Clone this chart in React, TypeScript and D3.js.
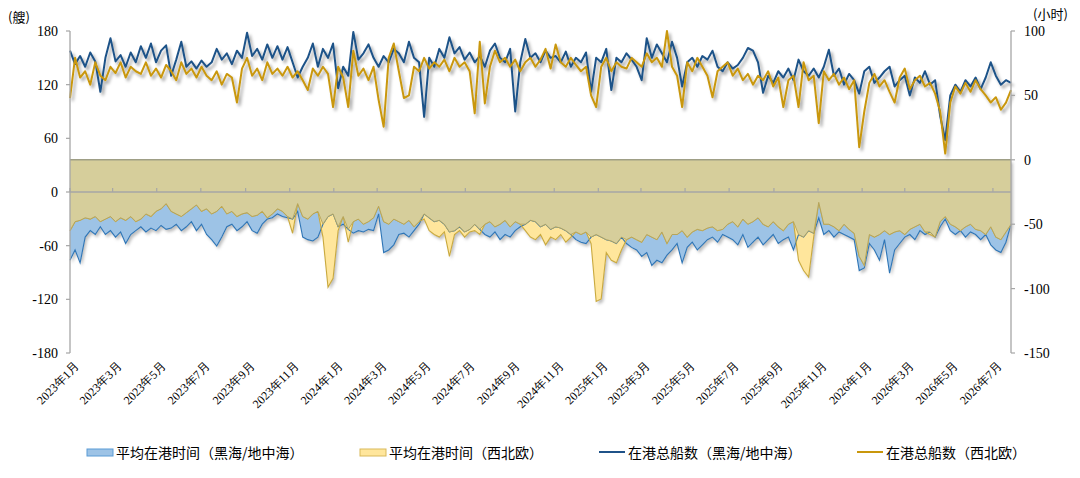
import React from "react";
import * as d3 from "d3";

const START_DATE = "2023-01-01";
const STEP_DAYS = 7;

// 在港总船数（黑海/地中海）— weekly, left axis (艘)
const blackSeaShips = [
  158, 143, 152, 140, 156, 146, 112, 150, 172, 146,
  153, 140, 156, 145, 163, 150, 166, 145, 158, 164,
  130, 148, 168, 140, 146, 138, 147, 140, 145, 160,
  148, 155, 143, 158, 150, 178, 152, 160, 148, 165,
  150, 163, 148, 162, 145, 128, 140, 150, 166, 140,
  160, 150, 166, 116, 140, 130, 179, 148, 155, 165,
  150, 140, 152, 145, 160, 155, 145, 168, 150, 145,
  84, 150, 140, 160, 150, 173, 155, 162, 148, 156,
  145, 152, 140, 158, 166, 150, 145, 160, 90, 145,
  171, 150, 155, 145, 158, 150, 152, 145, 157, 140,
  150, 145, 156, 112, 150, 145, 160, 114, 150, 145,
  155, 148, 140, 125, 172, 150, 165, 155, 145, 168,
  150, 118, 145, 150, 140, 152, 148, 158, 140, 135,
  145, 138, 142, 150, 161, 158, 145, 111, 130, 122,
  135, 128, 138, 125, 148, 135, 130, 138, 128, 140,
  159, 130, 138, 120, 132, 125, 110, 135, 140, 122,
  128, 135, 140, 118, 125, 130, 108, 128, 122, 135,
  120, 125, 85, 58, 108, 120, 112, 125, 118, 128,
  115, 128, 145, 130, 120, 125, 122,
];

// 在港总船数（西北欧）
const nwEuropeShips = [
  105, 150, 128, 135, 120, 145, 130, 125, 140, 133,
  145, 128, 140, 135, 132, 145, 130, 138, 128, 142,
  135, 125, 145, 132, 138, 128, 140, 130, 125, 135,
  120, 132, 128, 100, 138, 150, 130, 138, 125, 145,
  132, 138, 130, 140, 128, 135, 125, 114, 138, 130,
  140, 132, 95, 140, 128, 95, 158, 130, 138, 125,
  140, 103, 73, 150, 166, 135, 105, 108, 140, 135,
  150, 138, 145, 140, 148, 135, 150, 140, 145, 135,
  88, 168, 99, 140, 158, 145, 150, 140, 148, 135,
  145, 150, 140, 148, 160, 138, 165, 145, 140, 150,
  142, 135, 140, 108, 95, 140, 150, 135, 145, 140,
  138, 150, 145, 140, 155, 145, 150, 140, 180, 140,
  130, 95, 145, 135, 150, 140, 130, 106, 135, 140,
  145, 130, 138, 125, 132, 120, 130, 125, 135, 118,
  128, 95, 125, 130, 95, 145, 125, 130, 77, 135,
  125, 132, 120, 128, 115, 125, 50, 90, 122, 132,
  118, 125, 112, 100, 128, 138, 115, 125, 130, 118,
  122, 110, 90, 43, 100, 118, 110, 122, 112, 125,
  115, 108, 100, 106, 92, 100, 114,
];

// 平均在港时间（黑海/地中海）— right axis (小时), plotted downward
const blackSeaHours = [
  -78, -70, -80, -60, -55, -58, -52, -58, -55, -60,
  -56, -65, -58, -55, -52, -56, -53, -55, -51, -54,
  -53, -50, -55, -52, -48, -55, -50, -58, -62, -67,
  -60, -52, -50, -55, -52, -48, -55, -57, -50, -46,
  -45, -42, -44, -45, -46, -40, -60, -62, -63, -60,
  -50, -44, -42, -52, -50, -54, -57, -55, -56, -54,
  -55, -42, -72, -70, -66, -58, -57, -60, -55, -50,
  -42, -45, -48, -47, -50, -56, -55, -52, -56, -54,
  -50, -54, -58, -60, -56, -62, -58, -60, -55, -52,
  -50, -47, -48, -52, -50, -54, -52, -53, -55, -58,
  -62, -64, -65, -60, -58, -60, -62, -63, -65, -60,
  -65, -68, -70, -75, -72, -82, -78, -80, -74, -70,
  -65, -80, -68, -64, -70, -66, -62, -60, -64, -58,
  -60, -62, -66, -58, -68, -64, -60, -66, -62, -58,
  -65, -62, -60, -70, -58, -60, -55, -57, -45, -58,
  -55, -60, -56, -58, -60, -62, -86, -84, -65, -70,
  -78, -62, -88, -70, -65, -60, -58, -62, -55, -58,
  -56, -60, -52, -46, -55, -58, -55, -60, -56, -58,
  -62, -58, -66, -70, -72, -64, -50,
];

// 平均在港时间（西北欧）
const nwEuropeHours = [
  -55, -48, -47, -45, -46, -44, -48, -46, -44, -48,
  -45, -47, -44, -48, -46, -42, -44, -40, -38, -34,
  -40, -42, -44, -41, -38, -35, -40, -38, -42, -40,
  -36, -42, -40, -44, -42, -41, -44, -43, -40, -45,
  -42, -38, -40, -44, -57, -34, -44, -46, -42, -40,
  -60, -99, -92, -55, -44, -64, -48, -46, -50, -48,
  -45, -36, -48, -50, -46, -48, -50, -47, -52, -48,
  -46, -55, -58, -60, -56, -75, -58, -55, -60, -56,
  -55, -58, -50, -48, -52, -50, -47, -52, -48, -50,
  -55, -60, -62, -58, -66, -60, -62, -58, -64, -60,
  -56, -58, -56, -65, -110, -108, -72, -78, -80, -70,
  -62, -60, -62, -64, -58, -60, -62, -56, -65, -58,
  -58, -55, -60, -56, -54, -55, -53, -52, -55, -54,
  -50, -48, -52, -46, -50, -48, -45, -50, -52, -48,
  -52, -55, -50, -48, -78, -86, -91, -60, -33, -50,
  -50, -52, -55, -50, -54, -57, -75, -82, -58, -60,
  -58, -55, -58, -56, -55, -58, -54, -52, -50, -56,
  -58, -60, -48, -44, -50, -52, -55, -52, -50, -54,
  -55, -58, -52, -60, -62, -56, -50,
];

const leftTicks = [-180, -120, -60, 0, 60, 120, 180];
const rightTicks = [-150, -100, -50, 0, 50, 100];
const xTickLabels = [
  "2023年1月", "2023年3月", "2023年5月", "2023年7月", "2023年9月", "2023年11月",
  "2024年1月", "2024年3月", "2024年5月", "2024年7月", "2024年9月", "2024年11月",
  "2025年1月", "2025年3月", "2025年5月", "2025年7月", "2025年9月", "2025年11月",
  "2026年1月", "2026年3月", "2026年5月", "2026年7月",
];

const C_BLUE_LINE = "#1F5288";
const C_GOLD_LINE = "#C9970C";
const C_BLUE_FILL = "#9DC3E6";
const C_BLUE_EDGE = "#2E75B6";
const C_YEL_FILL = "#FFE69C";
const C_YEL_EDGE = "#C9A93E";
const C_KHAKI = "#D6CE9B";
const C_AXIS = "#A6A6A6";
const SERIF = "'Liberation Serif', 'Times New Roman', serif";
const SANS = "'Noto Sans CJK SC', 'Noto Sans', sans-serif";

export default function App() {
  const W = 1080, H = 478;
  const left = 70, right = 1011, top = 31, bottom = 353;
  const start = new Date(START_DATE + "T00:00:00");
  const day = 86400000;
  const n = blackSeaShips.length;
  const dates = d3.range(n).map((i) => new Date(start.getTime() + i * STEP_DAYS * day));
  const x = d3.scaleTime().domain([dates[0], dates[n - 1]]).range([left, right]);
  const yL = d3.scaleLinear().domain([-180, 180]).range([bottom, top]);
  const yR = d3.scaleLinear().domain([-150, 100]).range([bottom, top]);

  const idx = d3.range(n);
  const areaOf = (vals: number[]) =>
    d3.area<number>().x((i) => x(dates[i])).y0(yR(0)).y1((i) => yR(vals[i]))(idx) || "";
  const edgeOf = (vals: number[]) =>
    d3.line<number>().x((i) => x(dates[i])).y((i) => yR(vals[i]))(idx) || "";
  const lineOf = (vals: number[]) =>
    d3.line<number>().x((i) => x(dates[i])).y((i) => yL(vals[i]))(idx) || "";
  const overlap = idx.map((i) => Math.max(blackSeaHours[i], nwEuropeHours[i]));

  const tickDates = xTickLabels.map((s) => {
    const m = s.match(/(\d+)年(\d+)月/)!;
    return new Date(+m[1], +m[2] - 1, 1);
  });

  return (
    <div style={{ position: "fixed", left: 0, top: 0, background: "#fff" }}>
      <svg width={W} height={H} style={{ display: "block" }}>
        <defs>
          <filter id="sh" x="-5%" y="-20%" width="110%" height="140%">
            <feDropShadow dx="2.5" dy="3" stdDeviation="1.4" floodColor="#000" floodOpacity="0.35" />
          </filter>
          <filter id="sh2" x="-5%" y="-20%" width="110%" height="140%">
            <feDropShadow dx="2" dy="3" stdDeviation="1.5" floodColor="#000" floodOpacity="0.25" />
          </filter>
        </defs>
        <rect width={W} height={H} fill="#fff" />

        {/* areas */}
        <g filter="url(#sh2)">
          <path d={areaOf(blackSeaHours)} fill={C_BLUE_FILL} />
          <path d={areaOf(nwEuropeHours)} fill={C_YEL_FILL} />
        </g>
        <path d={edgeOf(blackSeaHours)} fill="none" stroke={C_BLUE_EDGE} strokeWidth={1.1} />
        <path d={edgeOf(nwEuropeHours)} fill="none" stroke={C_YEL_EDGE} strokeWidth={1.1} />
        <path d={areaOf(overlap)} fill={C_KHAKI} />
        <path d={edgeOf(overlap)} fill="none" stroke="#B3A35A" strokeWidth={0.9} />
        <line x1={left} x2={right} y1={yR(0)} y2={yR(0)} stroke="#9F9F86" strokeWidth={1.5} />

        {/* x axis at left zero */}
        <line x1={left} x2={right} y1={yL(0)} y2={yL(0)} stroke={C_AXIS} strokeWidth={1.6} />
        {tickDates.map((d, i) => (
          <line key={"xt" + i} x1={x(d)} x2={x(d)} y1={yL(0)} y2={yL(0) - 4} stroke={C_AXIS} strokeWidth={1.2} />
        ))}

        {/* ship lines */}
        <g filter="url(#sh)">
          <path d={lineOf(blackSeaShips)} fill="none" stroke={C_BLUE_LINE} strokeWidth={2} strokeLinejoin="round" />
          <path d={lineOf(nwEuropeShips)} fill="none" stroke={C_GOLD_LINE} strokeWidth={2} strokeLinejoin="round" />
        </g>

        {/* left axis */}
        <line x1={left} x2={left} y1={top} y2={bottom} stroke={C_AXIS} strokeWidth={1.3} />
        {leftTicks.map((t) => (
          <g key={"l" + t}>
            <line x1={left - 4} x2={left} y1={yL(t)} y2={yL(t)} stroke={C_AXIS} strokeWidth={1.2} />
            <text x={left - 12} y={yL(t)} dy="0.35em" textAnchor="end" fontFamily={SERIF} fontSize={14} fill="#000">{t}</text>
          </g>
        ))}
        <text x={8} y={17} dy="0.35em" fontFamily={SANS} fontSize={13} fill="#000">(艘)</text>

        {/* right axis */}
        <line x1={right} x2={right} y1={top} y2={bottom} stroke={C_AXIS} strokeWidth={1.3} />
        {rightTicks.map((t) => (
          <g key={"r" + t}>
            <line x1={right} x2={right + 4} y1={yR(t)} y2={yR(t)} stroke={C_AXIS} strokeWidth={1.2} />
            <text x={right + 13} y={yR(t)} dy="0.35em" textAnchor="start" fontFamily={SERIF} fontSize={14} fill="#000">{t}</text>
          </g>
        ))}
        <text x={1033} y={14} dy="0.35em" fontFamily={SANS} fontSize={13} fill="#000">(小时)</text>

        {/* x labels */}
        {tickDates.map((d, i) => (
          <text key={"xl" + i} transform={`translate(${x(d) + 4},${bottom + 8}) rotate(-45)`} textAnchor="end" dy="0.7em" fontFamily={SERIF} fontSize={12} fill="#000">
            {xTickLabels[i]}
          </text>
        ))}

        {/* legend */}
        <g fontFamily={SANS} fontSize={14} fill="#000">
          <rect x={87} y={449} width={26} height={7} fill={C_BLUE_FILL} stroke="#5B9BD5" strokeWidth={1} />
          <text x={116} y={453} dy="0.35em">平均在港时间（黑海/地中海）</text>
          <rect x={360} y={449} width={26} height={7} fill={C_YEL_FILL} stroke="#D9B95A" strokeWidth={1} />
          <text x={389} y={453} dy="0.35em">平均在港时间（西北欧）</text>
          <line x1={599} x2={625} y1={452} y2={452} stroke={C_BLUE_LINE} strokeWidth={2} />
          <text x={628} y={453} dy="0.35em">在港总船数（黑海/地中海）</text>
          <line x1={857} x2={883} y1={452} y2={452} stroke={C_GOLD_LINE} strokeWidth={2} />
          <text x={886} y={453} dy="0.35em">在港总船数（西北欧）</text>
        </g>
      </svg>
    </div>
  );
}
